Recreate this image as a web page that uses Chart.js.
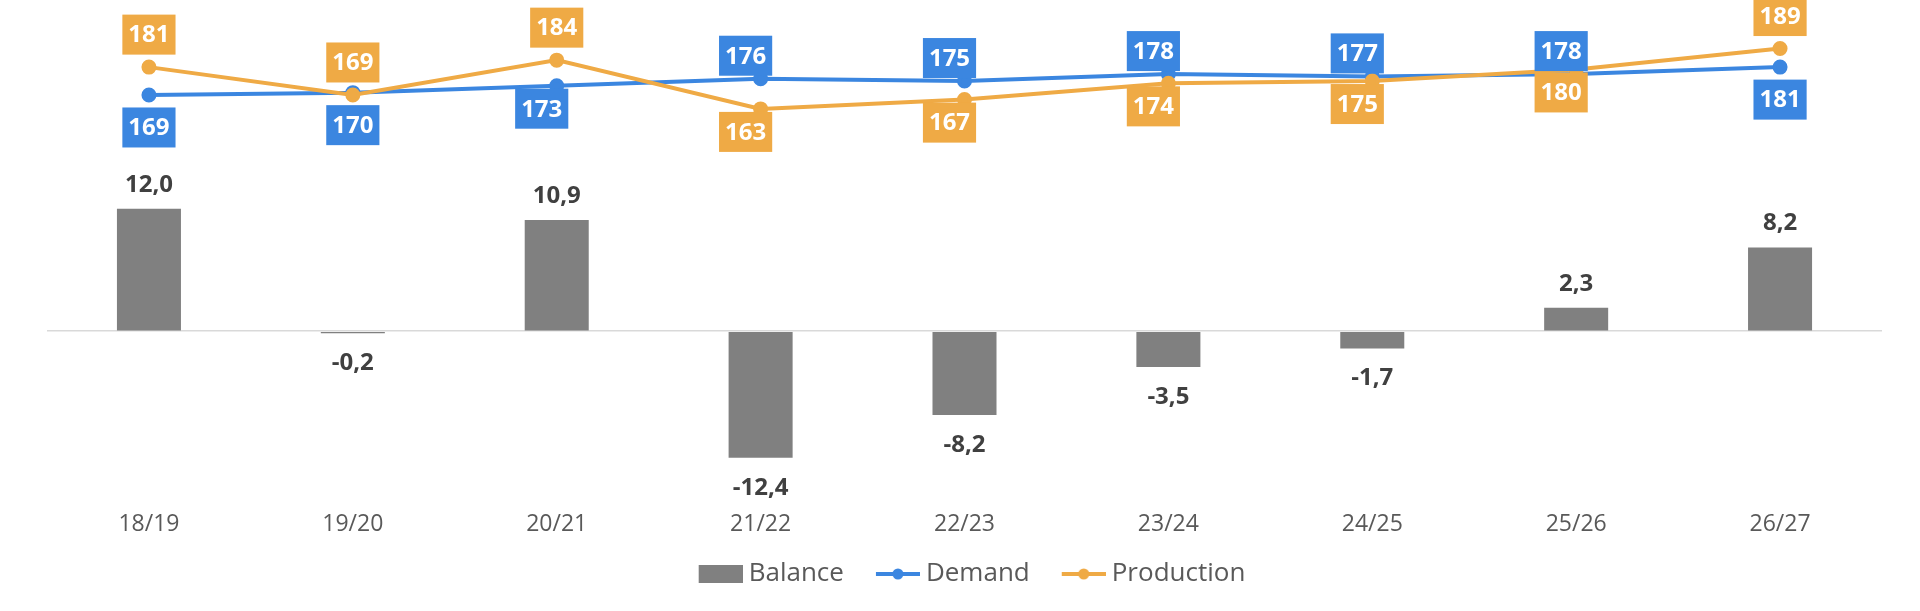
<!DOCTYPE html>
<html>
<head>
<meta charset="utf-8">
<script src="https://cdn.jsdelivr.net/npm/chart.js@4"></script>
<style>
  html, body { margin: 0; padding: 0; background: #fff; }
  #wrap { width: 1920px; height: 611px; }
</style>
</head>
<body>
<div id="wrap"><canvas id="chart"></canvas></div>
<script>
const seasons = ['18/19', '19/20', '20/21', '21/22', '22/23', '23/24', '24/25', '25/26', '26/27'];
const balance = [12.0, -0.2, 10.9, -12.4, -8.2, -3.5, -1.7, 2.3, 8.2];
const demand = [169, 170, 173, 176, 175, 178, 177, 178, 181];
const production = [181, 169, 184, 163, 167, 174, 175, 180, 189];

const GREY = '#808080';
const BLUE = '#3B86E0';
const ORANGE = '#EFAA45';
const FONT = "'Open Sans', sans-serif";

// legend swatch: canvas is wider than the legend box so the swatch sits
// close to its text, with the blank strip on the left spacing the items
function legendIcon(kind, color) {
  const off = 22;
  const c = document.createElement('canvas');
  c.width = 44 + off;
  c.height = 20;
  const g = c.getContext('2d');
  g.fillStyle = color;
  g.strokeStyle = color;
  if (kind === 'bar') {
    g.fillRect(off, 1, 44, 18);
  } else {
    g.lineWidth = 4;
    g.beginPath();
    g.moveTo(off, 10);
    g.lineTo(off + 44, 10);
    g.stroke();
    g.beginPath();
    g.arc(off + 22, 10, 5.5, 0, Math.PI * 2);
    g.fill();
  }
  return c;
}

// demand labels sit above the line in the middle seasons, production below
function labelAbove(label, i) {
  const middle = i >= 3 && i <= 7;
  return label === 'Demand' ? middle : !middle;
}

// in the crowded middle seasons the boxes hug the line and lean left
function labelTight(label, i, above) {
  return i >= 2 && i <= 7 && !(label === 'Production' && above);
}

const valueLabels = {
  id: 'valueLabels',
  afterDatasetsDraw(chart) {
    const ctx = chart.ctx;
    ctx.save();
    ctx.textAlign = 'center';
    ctx.textBaseline = 'middle';
    ctx.font = 'bold 24px ' + FONT;
    chart.data.datasets.forEach((ds, i) => {
      const meta = chart.getDatasetMeta(i);
      meta.data.forEach((el, j) => {
        const v = ds.data[j];
        if (ds.type === 'bar') {
          ctx.fillStyle = '#404040';
          const txt = v.toFixed(1).replace('.', ',');
          const y = v >= 0 ? el.y - 24 : el.y + 30;
          ctx.fillText(txt, el.x, y);
        } else {
          const txt = String(v);
          const above = labelAbove(ds.label, j);
          const tight = labelTight(ds.label, j, above);
          const gap = tight ? 3 : 12.5;
          const cx = el.x - (tight ? 15 : 0);
          const w = ctx.measureText(txt).width + 12, h = 40;
          const top = above ? el.y - gap - h : el.y + gap;
          ctx.fillStyle = ds.borderColor;
          ctx.fillRect(cx - w / 2, top, w, h);
          ctx.fillStyle = '#ffffff';
          ctx.fillText(txt, cx, top + h / 2 + 1);
        }
      });
    });
    ctx.restore();
  }
};

const icons = [legendIcon('bar', GREY), legendIcon('line', BLUE), legendIcon('line', ORANGE)];

new Chart(document.getElementById('chart'), {
  data: {
    labels: seasons,
    datasets: [
      {
        type: 'bar',
        label: 'Balance',
        data: balance,
        backgroundColor: GREY,
        yAxisID: 'y',
        order: 3,
        categoryPercentage: 1,
        barPercentage: 0.314
      },
      {
        type: 'line',
        label: 'Demand',
        data: demand,
        borderColor: BLUE,
        backgroundColor: BLUE,
        borderWidth: 4,
        pointRadius: 5.5,
        pointHoverRadius: 5.5,
        yAxisID: 'y1',
        order: 2
      },
      {
        type: 'line',
        label: 'Production',
        data: production,
        borderColor: ORANGE,
        backgroundColor: ORANGE,
        borderWidth: 4,
        pointRadius: 5.5,
        pointHoverRadius: 5.5,
        yAxisID: 'y1',
        order: 1
      }
    ]
  },
  options: {
    responsive: true,
    maintainAspectRatio: false,
    animation: false,
    layout: { padding: { left: 47, right: 38, top: 10, bottom: 14 } },
    plugins: {
      tooltip: { enabled: false },
      legend: {
        position: 'bottom',
        labels: {
          usePointStyle: true,
          pointStyleWidth: 52,
          boxHeight: 20,
          padding: 17,
          color: '#595959',
          font: { family: FONT, size: 26, weight: '400' },
          generateLabels(chart) {
            return chart.data.datasets.map((ds, i) => ({
              text: ds.label,
              pointStyle: icons[i],
              fillStyle: ds.backgroundColor,
              strokeStyle: ds.backgroundColor,
              lineWidth: 0,
              fontColor: '#595959',
              hidden: false,
              datasetIndex: i
            }));
          }
        }
      }
    },
    scales: {
      x: {
        grid: { display: false },
        border: { display: false },
        ticks: {
          color: '#595959',
          padding: 6,
          font: { family: FONT, size: 23, weight: '400' }
        }
      },
      y: {
        min: -16.18,
        max: 31.47,
        ticks: { display: false },
        border: { display: false },
        grid: {
          drawTicks: false,
          lineWidth: 1.5,
          color: c => (c.tick && c.tick.value === 0 ? '#D9D9D9' : 'rgba(0,0,0,0)')
        }
      },
      y1: {
        display: false,
        min: -3.9,
        max: 205.6
      }
    }
  },
  plugins: [valueLabels]
});
</script>
</body>
</html>
